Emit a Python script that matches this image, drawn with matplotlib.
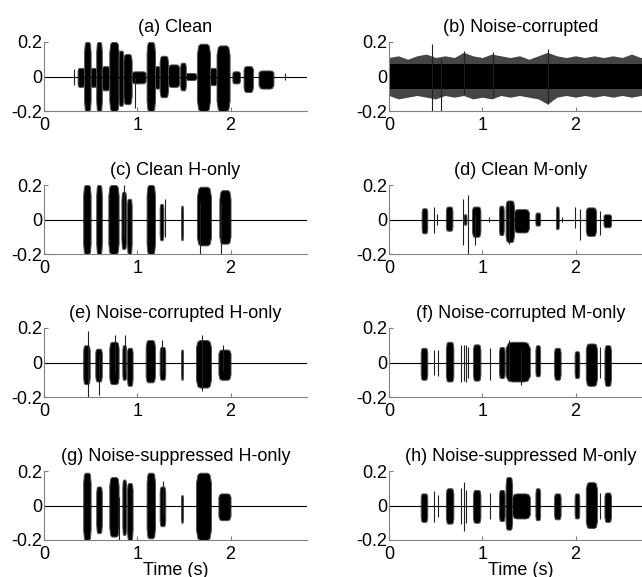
import matplotlib
matplotlib.use("Agg")
from matplotlib import pyplot as plt

plt.rcParams["font.family"] = ["Liberation Sans", "DejaVu Sans"]
plt.rcParams["axes.unicode_minus"] = False

duration = 2.82  # length of the utterance, s

# bursts: (start s, end s, upper peak, lower peak)
# spikes: (time s, upper peak, lower peak)
a_bursts = [(0.36, 0.43, 0.05, -0.06), (0.43, 0.50, 0.2, -0.2),
            (0.50, 0.56, 0.05, -0.06), (0.56, 0.62, 0.2, -0.2),
            (0.62, 0.70, 0.06, -0.08), (0.70, 0.80, 0.2, -0.2),
            (0.80, 0.85, 0.15, -0.17), (0.85, 0.94, 0.13, -0.16),
            (0.94, 1.09, 0.03, -0.04), (1.10, 1.19, 0.2, -0.2),
            (1.19, 1.24, 0.06, -0.07), (1.24, 1.33, 0.12, -0.12),
            (1.33, 1.45, 0.07, -0.06), (1.46, 1.52, 0.08, -0.08),
            (1.52, 1.63, 0.02, -0.02), (1.64, 1.78, 0.19, -0.2),
            (1.78, 1.85, 0.05, -0.05), (1.85, 1.99, 0.18, -0.2),
            (2.02, 2.10, 0.03, -0.04), (2.14, 2.24, 0.06, -0.09),
            (2.30, 2.46, 0.035, -0.07)]
a_spikes = [(0.32, 0.045, -0.05), (0.975, 0.0, -0.18), (2.58, 0.02, -0.02)]

# noise-corrupted: envelope sampled every 0.1 s plus a few outliers
noise_t = [0.0, 0.1, 0.2, 0.3, 0.4, 0.5, 0.6, 0.7, 0.8, 0.9, 1.0, 1.1, 1.2,
           1.3, 1.4, 1.5, 1.6, 1.7, 1.8, 1.9, 2.0, 2.1, 2.2, 2.3, 2.4, 2.5,
           2.6, 2.7, 2.82]
noise_top = [0.11, 0.12, 0.10, 0.12, 0.13, 0.11, 0.12, 0.11, 0.14, 0.12,
             0.11, 0.13, 0.12, 0.11, 0.12, 0.10, 0.12, 0.14, 0.12, 0.11,
             0.12, 0.11, 0.12, 0.11, 0.12, 0.11, 0.13, 0.11, 0.11]
noise_bot = [-0.11, -0.13, -0.12, -0.11, -0.12, -0.13, -0.11, -0.12, -0.11,
             -0.13, -0.12, -0.13, -0.11, -0.12, -0.11, -0.12, -0.13, -0.16,
             -0.12, -0.11, -0.12, -0.11, -0.12, -0.11, -0.12, -0.11, -0.12,
             -0.11, -0.11]
noise_core = 0.075
b_spikes = [(0.457, 0.19, -0.2), (0.56, 0.10, -0.2), (0.80, 0.15, -0.1),
            (1.12, 0.14, -0.12), (1.70, 0.16, -0.16)]

c_bursts = [(0.42, 0.50, 0.2, -0.2), (0.56, 0.62, 0.2, -0.2),
            (0.69, 0.80, 0.2, -0.2), (0.83, 0.88, 0.16, -0.17),
            (0.89, 0.94, 0.12, -0.2), (1.10, 1.19, 0.2, -0.2),
            (1.24, 1.28, 0.09, -0.12), (1.47, 1.49, 0.08, -0.12),
            (1.64, 1.79, 0.19, -0.15), (1.88, 2.00, 0.17, -0.14)]
c_spikes = [(0.86, 0.2, -0.1), (1.30, 0.12, -0.1), (1.67, 0.1, -0.2),
            (1.90, 0.1, -0.2)]

d_bursts = [(0.35, 0.41, 0.065, -0.08), (0.61, 0.68, 0.075, -0.065),
            (0.80, 0.83, 0.03, -0.03), (0.89, 0.98, 0.075, -0.10),
            (1.18, 1.23, 0.08, -0.09), (1.25, 1.34, 0.11, -0.13),
            (1.34, 1.50, 0.06, -0.075), (1.57, 1.62, 0.04, -0.035),
            (1.79, 1.82, 0.075, -0.055), (2.11, 2.22, 0.07, -0.095),
            (2.30, 2.38, 0.03, -0.045)]
d_spikes = [(0.48, 0.075, -0.08), (0.51, 0.03, -0.03), (0.79, 0.12, -0.15),
            (0.85, 0.14, -0.2), (0.92, 0.03, -0.15), (1.07, 0.015, -0.015),
            (1.29, 0.11, -0.14), (1.86, 0.015, -0.015), (1.99, 0.07, -0.05),
            (2.05, 0.06, -0.12), (2.26, 0.05, -0.09)]

e_bursts = [(0.42, 0.49, 0.10, -0.125), (0.55, 0.62, 0.08, -0.11),
            (0.70, 0.80, 0.12, -0.125), (0.84, 0.88, 0.10, -0.10),
            (0.89, 0.95, 0.085, -0.135), (1.09, 1.19, 0.13, -0.115),
            (1.24, 1.30, 0.09, -0.10), (1.47, 1.49, 0.075, -0.10),
            (1.63, 1.79, 0.13, -0.145), (1.87, 2.00, 0.075, -0.10)]
e_spikes = [(0.475, 0.18, -0.2), (0.59, 0.05, -0.19), (0.76, 0.16, -0.06),
            (0.87, 0.16, -0.05), (1.26, 0.13, -0.05), (1.69, 0.16, -0.165),
            (1.92, 0.10, -0.05)]

f_bursts = [(0.34, 0.41, 0.085, -0.10), (0.61, 0.69, 0.12, -0.11),
            (0.90, 0.98, 0.105, -0.105), (1.18, 1.24, 0.09, -0.09),
            (1.25, 1.51, 0.12, -0.11), (1.57, 1.62, 0.10, -0.08),
            (1.77, 1.84, 0.085, -0.10), (1.99, 2.04, 0.065, -0.09),
            (2.11, 2.23, 0.11, -0.135), (2.31, 2.38, 0.10, -0.135)]
f_spikes = [(0.48, 0.07, -0.07), (0.525, 0.075, -0.08), (0.775, 0.10, -0.115),
            (0.80, 0.10, -0.11), (0.83, 0.10, -0.115), (0.85, 0.09, -0.09),
            (1.08, 0.085, -0.10), (1.29, 0.13, -0.10), (1.42, 0.08, -0.13),
            (2.26, 0.09, -0.09)]

g_bursts = [(0.42, 0.50, 0.19, -0.2), (0.56, 0.62, 0.11, -0.16),
            (0.70, 0.80, 0.165, -0.18), (0.84, 0.88, 0.15, -0.17),
            (0.89, 0.95, 0.13, -0.2), (1.10, 1.19, 0.19, -0.19),
            (1.24, 1.30, 0.11, -0.12), (1.47, 1.49, 0.06, -0.10),
            (1.63, 1.79, 0.19, -0.2), (1.87, 2.00, 0.07, -0.085)]
g_spikes = [(0.80, 0.05, -0.2), (1.28, 0.14, -0.05)]

h_bursts = [(0.34, 0.41, 0.07, -0.095), (0.61, 0.69, 0.10, -0.105),
            (0.90, 0.98, 0.09, -0.10), (1.18, 1.24, 0.09, -0.09),
            (1.25, 1.32, 0.165, -0.14), (1.32, 1.51, 0.07, -0.075),
            (1.57, 1.62, 0.10, -0.085), (1.77, 1.84, 0.07, -0.08),
            (1.99, 2.04, 0.07, -0.075), (2.11, 2.23, 0.135, -0.13),
            (2.31, 2.38, 0.075, -0.095)]
h_spikes = [(0.48, 0.085, -0.095), (0.525, 0.06, -0.065), (0.775, 0.10, -0.11),
            (0.80, 0.135, -0.15), (0.83, 0.09, -0.10), (1.08, 0.07, -0.08),
            (2.26, 0.07, -0.08)]

titles = ["(a) Clean", "(b) Noise-corrupted",
          "(c) Clean H-only", "(d) Clean M-only",
          "(e) Noise-corrupted H-only", "(f) Noise-corrupted M-only",
          "(g) Noise-suppressed H-only", "(h) Noise-suppressed M-only"]
panels = [(a_bursts, a_spikes), None,
          (c_bursts, c_spikes), (d_bursts, d_spikes),
          (e_bursts, e_spikes), (f_bursts, f_spikes),
          (g_bursts, g_spikes), (h_bursts, h_spikes)]
yticks = [-0.2, 0, 0.2]
ytick_labels = ["-0.2", "0", "0.2"]
xticks = [0, 1, 2]

# rounded burst outline: fractions of the burst width / of the peak
shape_pos = [0.0, 0.1, 0.25, 0.75, 0.9, 1.0]
shape_amp = [0.7, 0.95, 1.0, 1.0, 0.95, 0.7]


def draw_bursts(ax, bursts, spikes):
    """Fill each burst as a black envelope, spikes as thin strokes"""
    for t0, t1, top, bot in bursts:
        xs = [t0 + p * (t1 - t0) for p in shape_pos]
        ax.fill_between(xs, [a * top for a in shape_amp],
                        [a * bot for a in shape_amp],
                        facecolor="black", edgecolor="#505050", lw=0.7)
    t, top, bot = zip(*spikes)
    ax.vlines(t, bot, top, color="#202020", lw=0.8)


fig = plt.figure(figsize=(6.42, 5.77), dpi=100)
col_left = [44 / 642, 389 / 642]
row_bottom = [1 - 111 / 577, 1 - 254 / 577, 1 - 397 / 577, 1 - 540 / 577]
ax_w, ax_h = 263 / 642, 69 / 577

for i, title in enumerate(titles):
    row, col = divmod(i, 2)
    ax = fig.add_axes([col_left[col], row_bottom[row], ax_w, ax_h])

    ax.plot([0, duration], [0, 0], c="black", lw=0.8)
    if panels[i] is None:
        ax.fill_between(noise_t, noise_bot, noise_top, color="#454545", lw=0)
        ax.fill_between(noise_t, -noise_core, noise_core, color="black", lw=0)
        t, top, bot = zip(*b_spikes)
        ax.vlines(t, bot, top, color="#202020", lw=0.8)
    else:
        draw_bursts(ax, *panels[i])

    ax.set_xlim(0, duration)
    ax.set_ylim(-0.2, 0.2)
    ax.set_xticks(xticks)
    ax.set_yticks(yticks)
    ax.set_yticklabels(ytick_labels)
    ax.set_title(title, fontsize=13, pad=7)
    for side in ["top", "right"]:
        ax.spines[side].set_visible(False)
    for side in ["left", "bottom"]:
        ax.spines[side].set_color("#808080")
    ax.tick_params(direction="in", length=3, color="#808080", labelsize=13)
    ax.tick_params(axis="x", pad=4.5)
    ax.tick_params(axis="y", pad=1)
    if row == 3:
        ax.set_xlabel("Time (s)", fontsize=13, labelpad=-1)

fig.savefig("out.png", dpi=100)
